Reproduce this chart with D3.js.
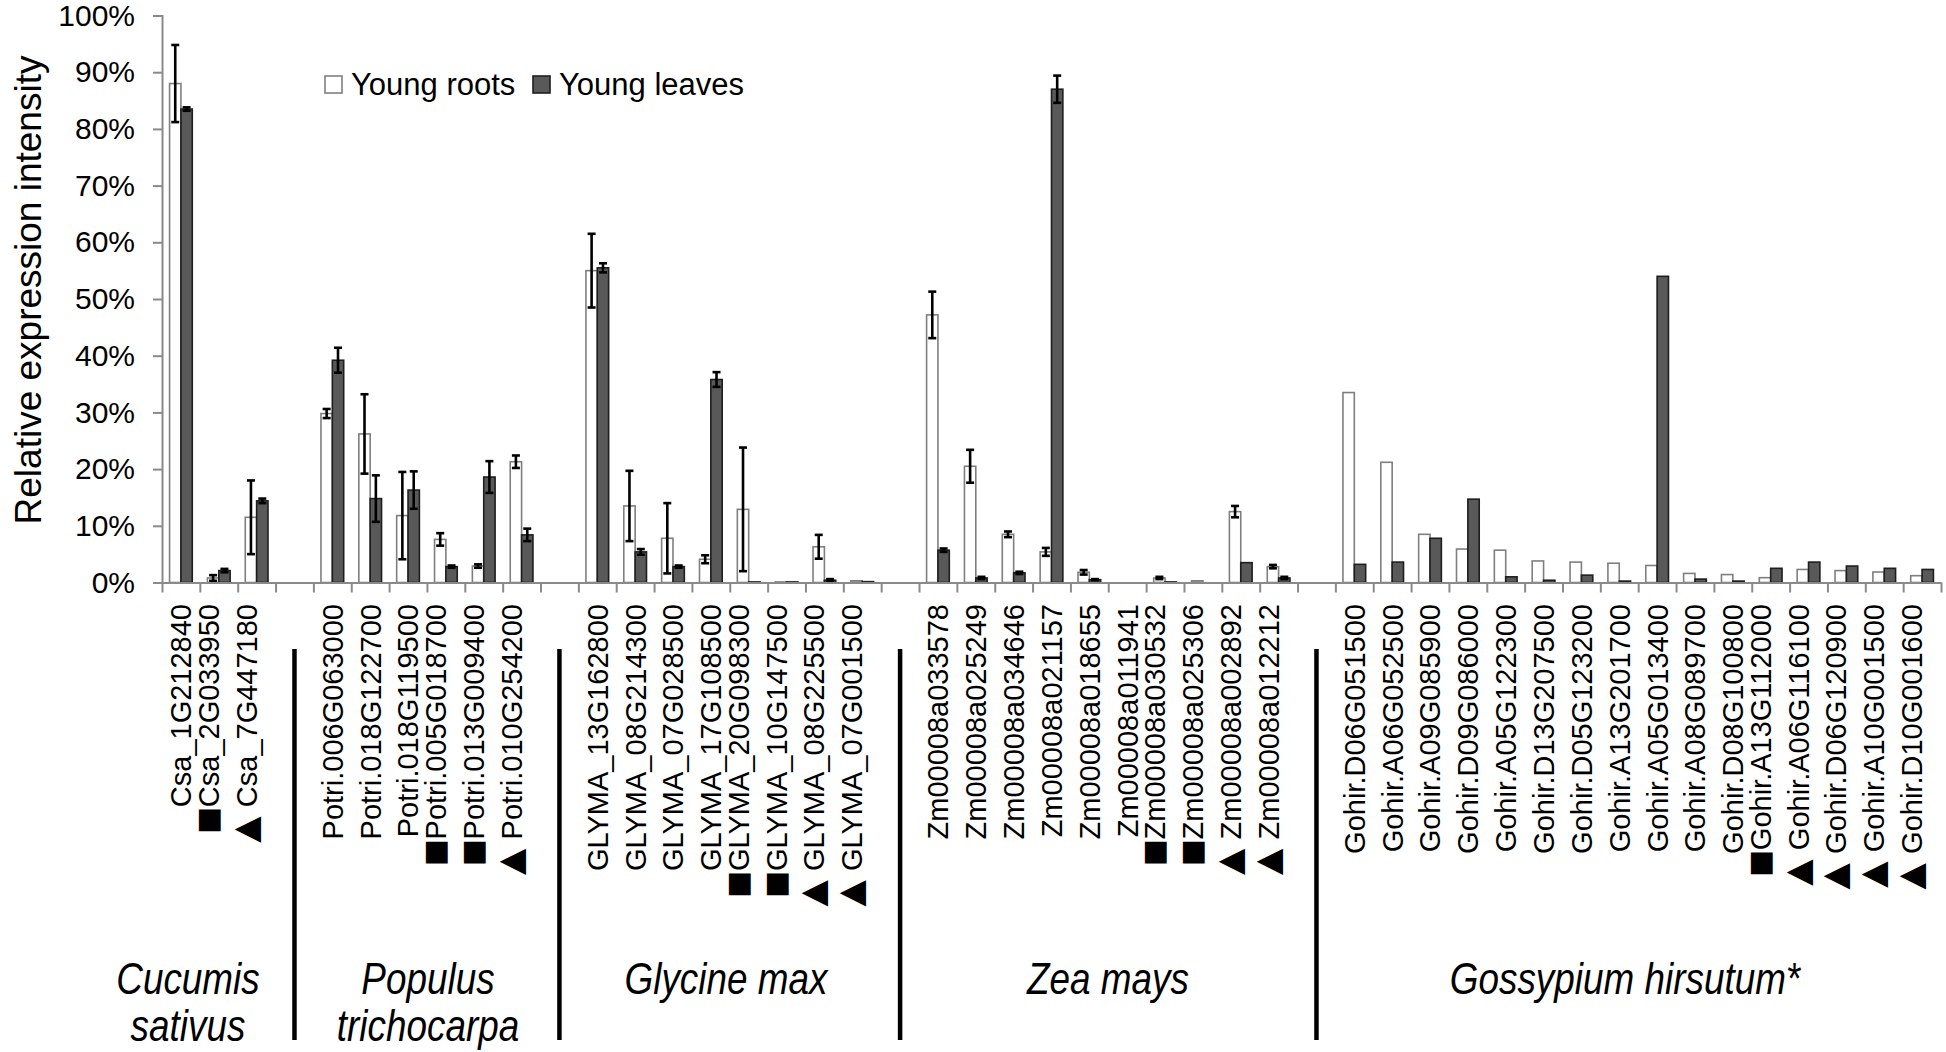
<!DOCTYPE html>
<html>
<head>
<meta charset="utf-8">
<script src="https://cdn.jsdelivr.net/npm/d3@7"></script>
<style>
  html, body { margin: 0; padding: 0; background: #fff; }
  svg { display: block; font-family: "Liberation Sans", Arial, sans-serif; }
</style>
</head>
<body>
<svg id="chart" width="1946" height="1052"></svg>
<script>
// ---------- DATA ----------
// marker shown before some gene names ("" = none)
const geneMarkers = [
  "", "\u25A0", "\u25B2",
  "",
  "", "", "", "\u25A0", "\u25A0", "\u25B2",
  "",
  "", "", "", "", "\u25A0", "\u25A0", "\u25B2", "\u25B2",
  "",
  "", "", "", "", "", "", "\u25A0", "\u25A0", "\u25B2", "\u25B2",
  "",
  "", "", "", "", "", "", "", "", "", "", "", "\u25A0", "\u25B2", "\u25B2", "\u25B2", "\u25B2"
];
// x slots (blank strings are the empty separator slots between species)
const geneLabels = [
  "Csa_1G212840", "Csa_2G033950", "Csa_7G447180",
  "",
  "Potri.006G063000", "Potri.018G122700", "Potri.018G119500", "Potri.005G018700", "Potri.013G009400", "Potri.010G254200",
  "",
  "GLYMA_13G162800", "GLYMA_08G214300", "GLYMA_07G028500", "GLYMA_17G108500", "GLYMA_20G098300", "GLYMA_10G147500", "GLYMA_08G225500", "GLYMA_07G001500",
  "",
  "Zm00008a033578", "Zm00008a025249", "Zm00008a034646", "Zm00008a021157", "Zm00008a018655", "Zm00008a011941", "Zm00008a030532", "Zm00008a025306", "Zm00008a002892", "Zm00008a012212",
  "",
  "Gohir.D06G051500", "Gohir.A06G052500", "Gohir.A09G085900", "Gohir.D09G086000", "Gohir.A05G122300", "Gohir.D13G207500", "Gohir.D05G123200", "Gohir.A13G201700", "Gohir.A05G013400", "Gohir.A08G089700", "Gohir.D08G100800", "Gohir.A13G112000", "Gohir.A06G116100", "Gohir.D06G120900", "Gohir.A10G001500", "Gohir.D10G001600"
];

// Relative expression intensity (%), null = empty separator slot
const youngRoots = [
  88.0, 0.8, 11.5,
  null,
  29.8, 26.2, 11.8, 7.6, 2.9, 21.3,
  null,
  55.0, 13.5, 7.8, 4.1, 12.9, 0.1, 6.3, 0.3,
  null,
  47.2, 20.5, 8.5, 5.4, 1.8, 0, 0.8, 0.3, 12.5, 2.8,
  null,
  33.5, 21.2, 8.5, 5.9, 5.7, 3.8, 3.6, 3.4, 3.0, 1.6, 1.4, 0.85, 2.3, 2.1, 1.85, 1.2
];
const youngRootsErr = [
  6.8, 0.5, 6.5,
  null,
  0.8, 7.0, 7.7, 1.1, 0.3, 1.1,
  null,
  6.5, 6.2, 6.2, 0.7, 10.9, 0, 2.1, 0,
  null,
  4.1, 2.9, 0.5, 0.7, 0.4, 0, 0.2, 0, 1.0, 0.3,
  null,
  0, 0, 0, 0, 0, 0, 0, 0, 0, 0, 0, 0, 0, 0, 0, 0
];
const youngLeaves = [
  83.5, 2.1, 14.4,
  null,
  39.2, 14.8, 16.3, 2.8, 18.6, 8.4,
  null,
  55.5, 5.4, 2.8, 35.8, 0.1, 0.1, 0.4, 0.15,
  null,
  5.7, 0.8, 1.7, 87.0, 0.5, 0, 0.1, 0, 3.5, 0.8,
  null,
  3.2, 3.6, 7.8, 14.7, 1.0, 0.4, 1.3, 0.25, 54.0, 0.6, 0.25, 2.5, 3.6, 2.9, 2.5, 2.3
];
const youngLeavesErr = [
  0.3, 0.3, 0.4,
  null,
  2.2, 4.1, 3.3, 0.2, 2.8, 1.1,
  null,
  0.8, 0.5, 0.2, 1.3, 0, 0, 0.2, 0,
  null,
  0.3, 0.2, 0.2, 2.4, 0.1, 0, 0, 0, 0, 0.2,
  null,
  0, 0, 0, 0, 0, 0, 0, 0, 0, 0, 0, 0, 0, 0, 0, 0
];

const seriesNames = ["Young roots", "Young leaves"];
const yTicks = [0, 0.1, 0.2, 0.3, 0.4, 0.5, 0.6, 0.7, 0.8, 0.9, 1.0];
const yTitle = "Relative expression intensity";

// species captions (one entry per species, lines split)
const speciesLines = [["Cucumis", "sativus"], ["Populus", "trichocarpa"], ["Glycine max"], ["Zea mays"], ["Gossypium hirsutum*"]];
// separator slots (index of the empty slot between species)
const separatorSlots = [3, 10, 19, 30];

// ---------- LAYOUT ----------
(function draw() {
const svg = d3.select("#chart");
const plotLeft = 162, plotRight = 1941, plotTop = 15.5, plotBottom = 582.5;

const y = d3.scaleLinear().domain([0, 1]).range([plotBottom, plotTop]);
const x0 = d3.scaleBand().domain(d3.range(geneLabels.length)).range([plotLeft, plotRight])
  .paddingInner(0.4).paddingOuter(0.2);
const x1 = d3.scaleBand().domain(seriesNames).range([0, x0.bandwidth()]);
const xEdge = d3.scaleLinear().domain([0, geneLabels.length]).range([plotLeft, plotRight]);

const axisColor = "#8a8a8a";

// y axis
const yAxis = svg.append("g").attr("transform", `translate(${plotLeft},0)`)
  .call(d3.axisLeft(y).tickValues(yTicks).tickFormat(d3.format(".0%")).tickSize(9).tickPadding(18));
yAxis.select(".domain").attr("stroke", axisColor).attr("stroke-width", 2);
yAxis.selectAll(".tick line").attr("stroke", axisColor).attr("stroke-width", 2);
yAxis.selectAll(".tick text").attr("font-size", 30).attr("fill", "#000")
  .attr("font-family", "Liberation Sans, Arial, sans-serif");

// y title
svg.append("text")
  .attr("transform", `translate(28,290) rotate(-90)`)
  .attr("text-anchor", "middle").attr("dominant-baseline", "central")
  .attr("font-size", 37).attr("fill", "#000").text(yTitle);

// bars
const rows = geneLabels.map((g, i) => ({
  i, label: g, marker: geneMarkers[i],
  vals: [
    { s: seriesNames[0], v: youngRoots[i], e: youngRootsErr[i] },
    { s: seriesNames[1], v: youngLeaves[i], e: youngLeavesErr[i] }
  ]
}));

const gBars = svg.append("g");
const groups = gBars.selectAll("g.slot").data(rows.filter(r => r.vals[0].v !== null)).join("g")
  .attr("class", "slot").attr("transform", d => `translate(${x0(d.i)},0)`);

groups.selectAll("rect").data(d => d.vals).join("rect")
  .attr("x", d => x1(d.s))
  .attr("width", x1.bandwidth())
  .attr("y", d => y(d.v / 100))
  .attr("height", d => Math.max(0, y(0) - y(d.v / 100)))
  .attr("fill", d => d.s === seriesNames[0] ? "#ffffff" : "#595959")
  .attr("stroke", d => d.s === seriesNames[0] ? "#7f7f7f" : "#1e1e1e")
  .attr("stroke-width", 1.6);

// error bars
const errs = groups.selectAll("g.err").data(d => d.vals.filter(v => v.e > 0)).join("g").attr("class", "err");
const cap = 4;
const cx = d => x1(d.s) + x1.bandwidth() / 2;
errs.append("line")
  .attr("x1", cx).attr("x2", cx)
  .attr("y1", d => y((d.v + d.e) / 100)).attr("y2", d => y(Math.max(0, d.v - d.e) / 100))
  .attr("stroke", "#000").attr("stroke-width", 2.6);
errs.append("line")
  .attr("x1", d => cx(d) - cap).attr("x2", d => cx(d) + cap)
  .attr("y1", d => y((d.v + d.e) / 100)).attr("y2", d => y((d.v + d.e) / 100))
  .attr("stroke", "#000").attr("stroke-width", 2.6);
errs.append("line")
  .attr("x1", d => cx(d) - cap).attr("x2", d => cx(d) + cap)
  .attr("y1", d => y(Math.max(0, d.v - d.e) / 100)).attr("y2", d => y(Math.max(0, d.v - d.e) / 100))
  .attr("stroke", "#000").attr("stroke-width", 2.6);

// x axis (tick marks at slot boundaries)
const xAxis = svg.append("g").attr("transform", `translate(0,${plotBottom})`)
  .call(d3.axisBottom(xEdge).tickValues(d3.range(geneLabels.length + 1)).tickFormat("").tickSize(10).tickSizeOuter(0));
xAxis.select(".domain").attr("stroke", axisColor).attr("stroke-width", 2);
xAxis.selectAll(".tick line").attr("stroke", axisColor).attr("stroke-width", 2);

// category labels (rotated)
const labels = svg.append("g").selectAll("text").data(rows.filter(r => r.label !== "")).join("text")
  .attr("transform", d => `translate(${x0(d.i) + x0.bandwidth() / 2},604) rotate(-90)`)
  .attr("text-anchor", "end").attr("dy", "0.36em")
  .attr("font-size", 29).attr("fill", "#000");
labels.filter(d => d.marker !== "").append("tspan")
  .attr("font-size", "1.55em").attr("dy", "4px").text(d => d.marker);
labels.append("tspan").attr("dy", d => d.marker !== "" ? "-4px" : null).text(d => d.label);

// separators
svg.append("g").selectAll("line").data(separatorSlots).join("line")
  .attr("x1", d => x0(d) + x0.bandwidth() / 2).attr("x2", d => x0(d) + x0.bandwidth() / 2)
  .attr("y1", 649).attr("y2", 1040)
  .attr("stroke", "#000").attr("stroke-width", 4.5);

// species captions (condensed italic)
const speciesX = [188, 428, 726, 1108, 1625];
const sp = svg.append("g").selectAll("text").data(speciesLines).join("text")
  .attr("transform", (d, i) => `translate(${speciesX[i]},0) scale(0.82,1)`)
  .attr("text-anchor", "middle")
  .attr("font-size", 45).attr("font-style", "italic")
  .attr("fill", "#000");
sp.selectAll("tspan").data(d => d.map((t, k) => ({ t, k }))).join("tspan")
  .attr("x", 0)
  .attr("y", d => 994 + d.k * 47)
  .text(d => d.t);

// legend
const legend = svg.append("g");
const legendX = [325, 533];
seriesNames.forEach((s, i) => {
  legend.append("rect").attr("x", legendX[i]).attr("y", 76).attr("width", 17).attr("height", 17)
    .attr("fill", i === 0 ? "#fff" : "#595959").attr("stroke", i === 0 ? "#7f7f7f" : "#1e1e1e").attr("stroke-width", 1.6);
  legend.append("text").attr("x", legendX[i] + 26).attr("y", 84.5).attr("dominant-baseline", "central")
    .attr("font-size", 31).attr("fill", "#000").text(s);
});
})();
</script>
</body>
</html>
